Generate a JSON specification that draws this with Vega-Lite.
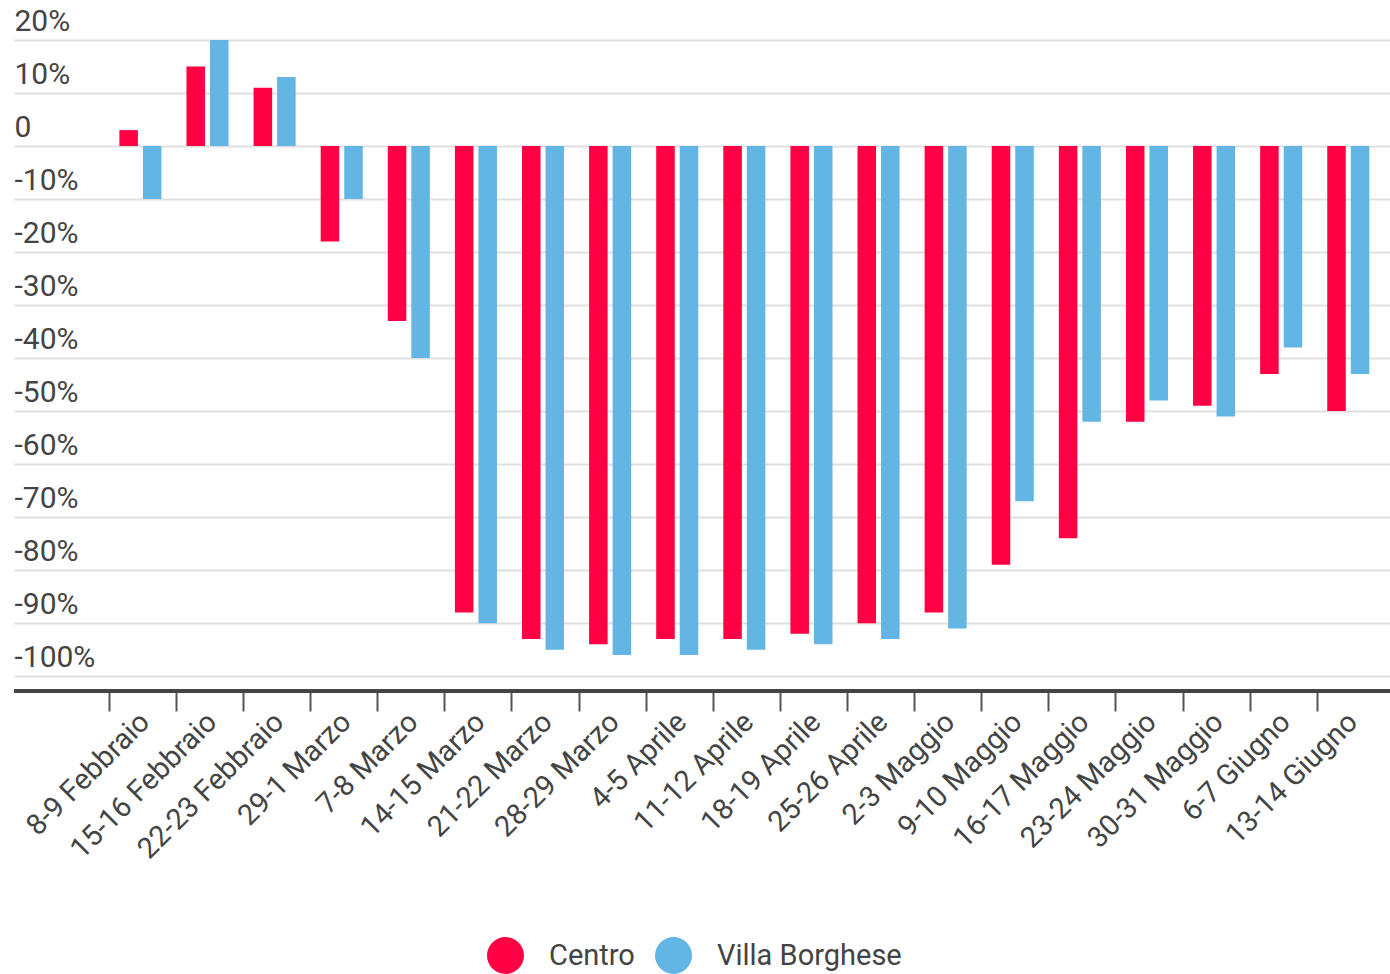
{
  "$schema": "https://vega.github.io/schema/vega-lite/v6.json",
  "autosize": {"type": "none"},
  "padding": {"left": 14, "top": 40, "right": 0, "bottom": 283},
  "width": 1376,
  "height": 651,
  "background": "white",
  "config": {
    "font": "Roboto",
    "view": {"stroke": null}
  },
  "data": {
    "values": [
      {"periodo": "8-9 Febbraio", "zona": "Centro", "variazione": 3},
      {"periodo": "8-9 Febbraio", "zona": "Villa Borghese", "variazione": -10},
      {"periodo": "15-16 Febbraio", "zona": "Centro", "variazione": 15},
      {"periodo": "15-16 Febbraio", "zona": "Villa Borghese", "variazione": 20},
      {"periodo": "22-23 Febbraio", "zona": "Centro", "variazione": 11},
      {"periodo": "22-23 Febbraio", "zona": "Villa Borghese", "variazione": 13},
      {"periodo": "29-1 Marzo", "zona": "Centro", "variazione": -18},
      {"periodo": "29-1 Marzo", "zona": "Villa Borghese", "variazione": -10},
      {"periodo": "7-8 Marzo", "zona": "Centro", "variazione": -33},
      {"periodo": "7-8 Marzo", "zona": "Villa Borghese", "variazione": -40},
      {"periodo": "14-15 Marzo", "zona": "Centro", "variazione": -88},
      {"periodo": "14-15 Marzo", "zona": "Villa Borghese", "variazione": -90},
      {"periodo": "21-22 Marzo", "zona": "Centro", "variazione": -93},
      {"periodo": "21-22 Marzo", "zona": "Villa Borghese", "variazione": -95},
      {"periodo": "28-29 Marzo", "zona": "Centro", "variazione": -94},
      {"periodo": "28-29 Marzo", "zona": "Villa Borghese", "variazione": -96},
      {"periodo": "4-5 Aprile", "zona": "Centro", "variazione": -93},
      {"periodo": "4-5 Aprile", "zona": "Villa Borghese", "variazione": -96},
      {"periodo": "11-12 Aprile", "zona": "Centro", "variazione": -93},
      {"periodo": "11-12 Aprile", "zona": "Villa Borghese", "variazione": -95},
      {"periodo": "18-19 Aprile", "zona": "Centro", "variazione": -92},
      {"periodo": "18-19 Aprile", "zona": "Villa Borghese", "variazione": -94},
      {"periodo": "25-26 Aprile", "zona": "Centro", "variazione": -90},
      {"periodo": "25-26 Aprile", "zona": "Villa Borghese", "variazione": -93},
      {"periodo": "2-3 Maggio", "zona": "Centro", "variazione": -88},
      {"periodo": "2-3 Maggio", "zona": "Villa Borghese", "variazione": -91},
      {"periodo": "9-10 Maggio", "zona": "Centro", "variazione": -79},
      {"periodo": "9-10 Maggio", "zona": "Villa Borghese", "variazione": -67},
      {"periodo": "16-17 Maggio", "zona": "Centro", "variazione": -74},
      {"periodo": "16-17 Maggio", "zona": "Villa Borghese", "variazione": -52},
      {"periodo": "23-24 Maggio", "zona": "Centro", "variazione": -52},
      {"periodo": "23-24 Maggio", "zona": "Villa Borghese", "variazione": -48},
      {"periodo": "30-31 Maggio", "zona": "Centro", "variazione": -49},
      {"periodo": "30-31 Maggio", "zona": "Villa Borghese", "variazione": -51},
      {"periodo": "6-7 Giugno", "zona": "Centro", "variazione": -43},
      {"periodo": "6-7 Giugno", "zona": "Villa Borghese", "variazione": -38},
      {"periodo": "13-14 Giugno", "zona": "Centro", "variazione": -50},
      {"periodo": "13-14 Giugno", "zona": "Villa Borghese", "variazione": -43}
    ]
  },
  "layer": [
    {
      "mark": {"type": "bar"},
      "encoding": {
        "x": {
          "field": "periodo",
          "type": "nominal",
          "sort": null,
          "scale": {"paddingInner": 0, "paddingOuter": 0.7526, "align": 0.944},
          "axis": {
            "title": null,
            "domain": false,
            "ticks": true,
            "tickSize": 20,
            "tickWidth": 2,
            "tickColor": "#555555",
            "bandPosition": 0,
            "labelOffset": 2,
            "labelAngle": -45,
            "labelAlign": "right",
            "labelBaseline": "middle",
            "labelPadding": 6,
            "labelFontSize": 29,
            "labelColor": "#444444",
            "labelOverlap": false,
            "labelBound": false,
            "labelLimit": 0,
            "grid": false
          }
        },
        "xOffset": {
          "field": "zona",
          "type": "nominal",
          "scale": {"domain": ["Centro", "Villa Borghese"], "paddingInner": 0.213, "paddingOuter": 0.532, "align": 0.4}
        },
        "y": {
          "field": "variazione",
          "type": "quantitative",
          "scale": {"domain": [-102.8, 20], "nice": false, "zero": false},
          "axis": {
            "title": null,
            "domain": false,
            "ticks": false,
            "tickSize": 0,
            "values": [20, 10, 0, -10, -20, -30, -40, -50, -60, -70, -80, -90, -100],
            "labelExpr": "datum.value == 0 ? '0' : datum.value + '%'",
            "labelAlign": "left",
            "labelBaseline": "alphabetic",
            "labelPadding": 0,
            "labelOffset": -10,
            "labelFlush": false,
            "labelOverlap": false,
            "labelFontSize": 30,
            "labelColor": "#444444",
            "grid": true,
            "gridColor": "#e0e0e0",
            "gridWidth": 2
          }
        },
        "color": {
          "field": "zona",
          "type": "nominal",
          "scale": {"domain": ["Centro", "Villa Borghese"], "range": ["#ff0044", "#63b5e3"]},
          "legend": {
            "title": null,
            "orient": "none",
            "direction": "horizontal",
            "legendX": 473,
            "legendY": 897,
            "padding": 0,
            "symbolType": "circle",
            "symbolSize": 1369,
            "symbolStrokeWidth": 0,
            "symbolOpacity": 1,
            "labelFontSize": 29,
            "labelColor": "#444444",
            "labelOffset": 25,
            "labelLimit": 0,
            "columnPadding": 20
          }
        }
      }
    },
    {
      "data": {"values": [{}]},
      "mark": {"type": "rule", "color": "#444444", "strokeWidth": 4},
      "encoding": {
        "y": {"datum": -102.8}
      }
    }
  ]
}
